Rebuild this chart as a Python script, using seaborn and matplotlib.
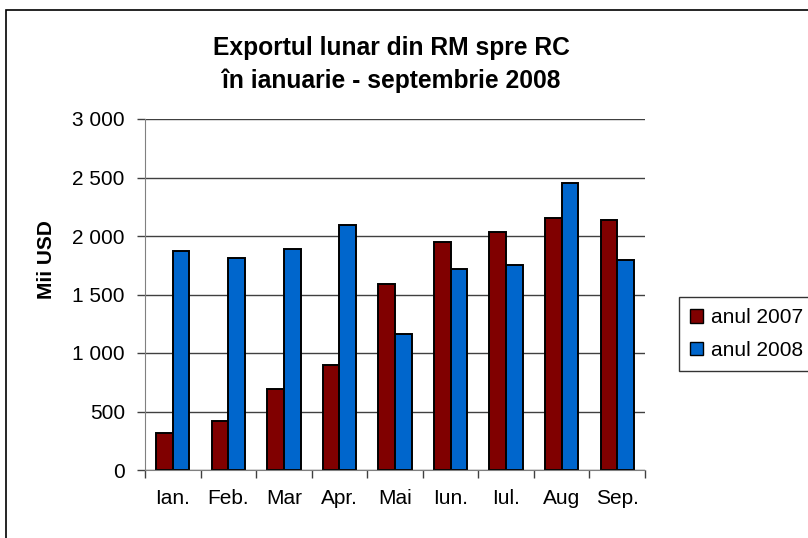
import matplotlib
matplotlib.use("Agg")
import matplotlib.pyplot as plt
import matplotlib.patches as mpatches
from matplotlib.ticker import FuncFormatter, MultipleLocator, FixedLocator
import pandas as pd
import seaborn as sns

# data (Mii USD)
months = ["Ian.", "Feb.", "Mar", "Apr.", "Mai", "Iun.", "Iul.", "Aug", "Sep."]
export_2007 = [316, 422, 690, 898, 1588, 1945, 2033, 2153, 2141]
export_2008 = [1871, 1811, 1885, 2096, 1166, 1722, 1751, 2455, 1794]
series = ["anul 2007", "anul 2008"]
colors = {"anul 2007": "#800000", "anul 2008": "#0066CC"}

df = pd.DataFrame({
    "luna": months * 2,
    "an": [series[0]] * len(months) + [series[1]] * len(months),
    "valoare": export_2007 + export_2008,
})

sns.set_style("white")
plt.rcParams['font.family'] = ['Liberation Sans', 'DejaVu Sans']
plt.rcParams['text.color'] = 'black'
plt.rcParams['xtick.color'] = 'black'
plt.rcParams['ytick.color'] = 'black'
plt.rcParams['axes.labelcolor'] = 'black'

fig = plt.figure(figsize=(8.08, 5.38), dpi=100)
ax = fig.add_axes([145/808, 68/538, 500/808, 351/538])

sns.barplot(data=df, x="luna", y="valoare", hue="an", palette=colors,
            width=0.6, edgecolor="black", linewidth=1.4, saturation=1,
            ax=ax, legend=False)

ax.set_ylim(0, 3000)
ax.set_xlim(-0.5, len(months) - 0.5)
ax.yaxis.set_major_locator(MultipleLocator(500))
ax.yaxis.set_major_formatter(FuncFormatter(lambda v, p: f"{int(v):,}".replace(",", " ")))

# gridlines
ax.set_axisbelow(True)
ax.yaxis.grid(True, color="#404040", linewidth=1)
ax.get_ygridlines()[-1].set_color("#e0e0e0")

# spines
for s in ["top", "right"]:
    ax.spines[s].set_visible(False)
ax.spines["left"].set_color("#808080")
ax.spines["bottom"].set_color("#808080")

# ticks: x ticks between categories
ax.xaxis.set_minor_locator(FixedLocator([i - 0.5 for i in range(len(months) + 1)]))
ax.tick_params(axis="x", which="major", length=0, pad=14, labelsize=15)
ax.tick_params(axis="x", which="minor", length=6, width=1, color="#404040", direction="out")
ax.tick_params(axis="y", length=6, width=1, color="#404040", direction="out", pad=8.5, labelsize=15)
ax.tick_params(axis="both", bottom=True, left=True)
ax.xaxis.set_tick_params(which="minor", bottom=True)

ax.set_xlabel("")
ax.set_ylabel("Mii USD", fontsize=15, fontweight="bold")
ax.yaxis.set_label_coords(-0.178, 0.6)

# title
fig.text(391/808, 1 - 36/538, "Exportul lunar din RM spre RC\nîn ianuarie - septembrie 2008",
         ha="center", va="top", fontsize=17.7, fontweight="bold", linespacing=1.45)

# legend
handles = [mpatches.Patch(facecolor=colors[s], edgecolor="black", linewidth=1, label=s) for s in series]
leg = fig.legend(handles=handles, loc="upper left", bbox_to_anchor=(679/808, 1 - 297/538),
                 frameon=True, fancybox=False, shadow=False, fontsize=15,
                 handlelength=0.6, handleheight=0.6, handletextpad=0.4,
                 borderpad=0.55, labelspacing=0.65, borderaxespad=0)
leg.get_frame().set_edgecolor("black")
leg.get_frame().set_linewidth(1)

# outer chart border (extends beyond the right and bottom edges)
fig.patches.append(mpatches.Rectangle((6/808, -0.05), 1.2, 1 - 10/538 + 0.05,
                                      transform=fig.transFigure, fill=False,
                                      edgecolor="black", linewidth=1.2))

fig.savefig("out.png", dpi=100)
